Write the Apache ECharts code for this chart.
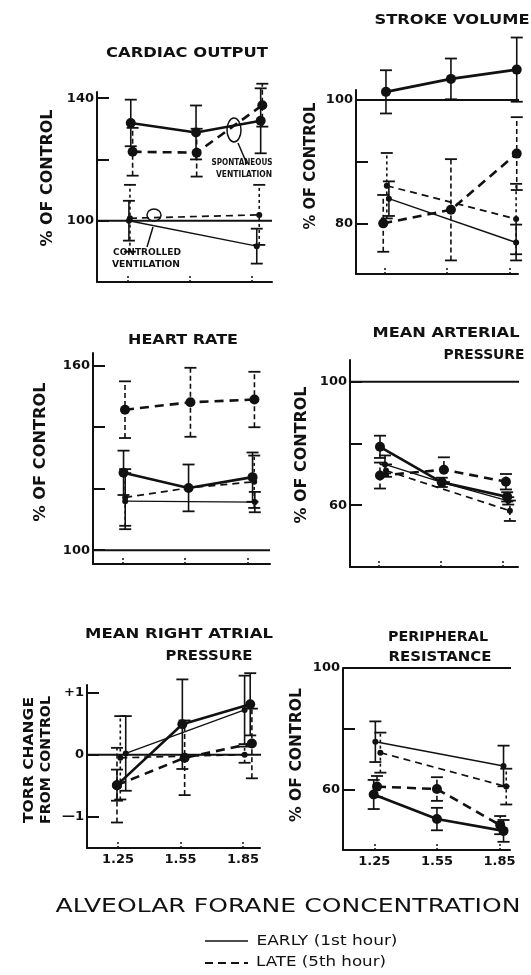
<!DOCTYPE html>
<html>
<head>
<meta charset="utf-8">
<script src="https://cdn.jsdelivr.net/npm/echarts@6/dist/echarts.min.js"></script>
<style>
  html, body { margin: 0; padding: 0; background: #fff; }
  #chart { width: 531px; height: 975px; }
</style>
</head>
<body>
<div id="chart"></div>
<script>
// concentrations on the x axis
const concTicks = [1.25, 1.55, 1.85]
const concLabels = ['1.25', '1.55', '1.85']

// cardiac output (% of control)
const coSpontEarlyX = [1.264, 1.581, 1.895]
const coSpontEarly = [131.9, 128.8, 132.6]
const coSpontEarlyErr = [7.6, 8.8, 10.6]
const coSpontLateX = [1.273, 1.584, 1.903]
const coSpontLate = [122.5, 122.2, 137.7]
const coSpontLateErr = [7.8, 7.8, 7.0]
const coCtrlEarlyX = [1.255, 1.876]
const coCtrlEarly = [100.0, 91.7]
const coCtrlEarlyErr = [6.5, 5.7]
const coCtrlLateX = [1.26, 1.888]
const coCtrlLate = [100.8, 101.9]
const coCtrlLateErr = [10.9, 9.8]
const coTicks = [100, 120, 140]
const coTickLabels = ['100', '', '140']

// stroke volume
const svSpontEarlyX = [1.258, 1.568, 1.882]
const svSpontEarly = [101.3, 103.4, 104.9]
const svSpontEarlyErr = [3.5, 3.3, 5.2]
const svSpontLateX = [1.245, 1.568, 1.882]
const svSpontLate = [80.0, 82.2, 91.3]
const svSpontLateErr = [4.6, 8.2, 5.9]
const svCtrlEarlyX = [1.272, 1.879]
const svCtrlEarly = [84.0, 76.9]
const svCtrlEarlyErr = [2.8, 2.9]
const svCtrlLateX = [1.262, 1.879]
const svCtrlLate = [86.1, 80.7]
const svCtrlLateErr = [5.3, 5.7]
const svTicks = [80, 90, 100]
const svTickLabels = ['80', '', '100']

// heart rate
const hrSpontEarlyX = [1.254, 1.567, 1.875]
const hrSpontEarly = [125.1, 120.2, 123.7]
const hrSpontEarlyErr = [7.2, 7.6, 8.0]
const hrSpontLateX = [1.261, 1.576, 1.884]
const hrSpontLate = [145.6, 148.0, 148.9]
const hrSpontLateErr = [9.2, 11.2, 9.0]
const hrCtrlEarlyX = [1.262, 1.886]
const hrCtrlEarly = [115.9, 115.6]
const hrCtrlEarlyErr = [9.1, 3.3]
const hrCtrlLateX = [1.262, 1.567, 1.883]
const hrCtrlLate = [117.1, 120.2, 122.2]
const hrCtrlLateErr = [9.2, 0, 8.5]
const hrTicks = [100, 120, 140, 160]
const hrTickLabels = ['100', '', '', '160']

// mean arterial pressure
const mapSpontEarlyX = [1.258, 1.555, 1.869]
const mapSpontEarly = [78.9, 67.4, 62.7]
const mapSpontEarlyErr = [3.6, 1.5, 1.5]
const mapSpontLateX = [1.258, 1.565, 1.863]
const mapSpontLate = [69.6, 71.5, 67.6]
const mapSpontLateErr = [4.2, 4.0, 2.5]
const mapCtrlEarlyX = [1.282, 1.555, 1.874]
const mapCtrlEarly = [73.2, 67.4, 61.4]
const mapCtrlEarlyErr = [2.9, 0, 1.2]
const mapCtrlLateX = [1.287, 1.882]
const mapCtrlLate = [71.2, 58.2]
const mapCtrlLateErr = [2.0, 3.3]
const mapTicks = [60, 80, 100]
const mapTickLabels = ['60', '', '100']

// mean right atrial pressure (torr change)
const rapSpontEarlyX = [1.245, 1.559, 1.885]
const rapSpontEarly = [-0.49, 0.49, 0.81]
const rapSpontEarlyErr = [0.25, 0.72, 0.5]
const rapSpontLateX = [1.245, 1.570, 1.893]
const rapSpontLate = [-0.49, -0.05, 0.18]
const rapSpontLateErr = [0.6, 0.6, 0.56]
const rapCtrlEarlyX = [1.287, 1.858]
const rapCtrlEarly = [0.02, 0.72]
const rapCtrlEarlyErr = [0.6, 0.55]
const rapCtrlLateX = [1.261, 1.858]
const rapCtrlLate = [-0.05, 0.0]
const rapCtrlLateErr = [0.67, 0.13]
const rapTicks = [-1, 0, 1]
const rapTickLabels = ['—1', '0', '+1']

// peripheral resistance
const prSpontEarlyX = [1.247, 1.550, 1.869]
const prSpontEarly = [58.3, 50.2, 46.3]
const prSpontEarlyErr = [4.8, 3.7, 3.6]
const prSpontLateX = [1.263, 1.550, 1.853]
const prSpontLate = [60.9, 60.1, 48.2]
const prSpontLateErr = [3.5, 3.9, 3.0]
const prCtrlEarlyX = [1.255, 1.869]
const prCtrlEarly = [75.7, 67.7]
const prCtrlEarlyErr = [6.7, 6.7]
const prCtrlLateX = [1.279, 1.882]
const prCtrlLate = [72.1, 60.9]
const prCtrlLateErr = [6.6, 5.9]
const prTicks = [60, 80, 100]
const prTickLabels = ['60', '', '100']

const INK = '#111'
const FONT = '"DejaVu Sans", sans-serif'

// grids are laid out to the pixel to sit where the original panels sit
const panels = [
  { left: 97, top: 92, width: 175, height: 190, x: [1.1, 1.95], y: [80, 142], ticks: coTicks, labels: coTickLabels, ref: 100, refEnd: 1.95, xLabels: false,
    series: [['ctrlEarly', coCtrlEarlyX, coCtrlEarly, coCtrlEarlyErr], ['ctrlLate', coCtrlLateX, coCtrlLate, coCtrlLateErr],
      ['spontEarly', coSpontEarlyX, coSpontEarly, coSpontEarlyErr], ['spontLate', coSpontLateX, coSpontLate, coSpontLateErr]] },
  { left: 356, top: 90, width: 162, height: 184, x: [1.115, 1.888], y: [71.8, 101.6], ticks: svTicks, labels: svTickLabels, ref: 100, refEnd: 1.95, xLabels: false,
    series: [['ctrlEarly', svCtrlEarlyX, svCtrlEarly, svCtrlEarlyErr], ['ctrlLate', svCtrlLateX, svCtrlLate, svCtrlLateErr],
      ['spontEarly', svSpontEarlyX, svSpontEarly, svSpontEarlyErr], ['spontLate', svSpontLateX, svSpontLate, svSpontLateErr]] },
  { left: 93, top: 353, width: 177, height: 211, x: [1.107, 1.959], y: [95.5, 164], ticks: hrTicks, labels: hrTickLabels, ref: 100, refEnd: 1.959, xLabels: false,
    series: [['ctrlEarly', hrCtrlEarlyX, hrCtrlEarly, hrCtrlEarlyErr], ['ctrlLate', hrCtrlLateX, hrCtrlLate, hrCtrlLateErr],
      ['spontEarly', hrSpontEarlyX, hrSpontEarly, hrSpontEarlyErr], ['spontLate', hrSpontLateX, hrSpontLate, hrSpontLateErr]] },
  { left: 350, top: 360, width: 168, height: 207, x: [1.114, 1.921], y: [40, 107], ticks: mapTicks, labels: mapTickLabels, ref: 100, refEnd: 1.983, xLabels: false,
    series: [['ctrlEarly', mapCtrlEarlyX, mapCtrlEarly, mapCtrlEarlyErr], ['ctrlLate', mapCtrlLateX, mapCtrlLate, mapCtrlLateErr],
      ['spontEarly', mapSpontEarlyX, mapSpontEarly, mapSpontEarlyErr], ['spontLate', mapSpontLateX, mapSpontLate, mapSpontLateErr]] },
  { left: 87, top: 685, width: 173, height: 163, x: [1.101, 1.932], y: [-1.5, 1.12], ticks: rapTicks, labels: rapTickLabels, ref: 0, refEnd: 1.955, xLabels: true,
    series: [['ctrlEarly', rapCtrlEarlyX, rapCtrlEarly, rapCtrlEarlyErr], ['ctrlLate', rapCtrlLateX, rapCtrlLate, rapCtrlLateErr],
      ['spontEarly', rapSpontEarlyX, rapSpontEarly, rapSpontEarlyErr], ['spontLate', rapSpontLateX, rapSpontLate, rapSpontLateErr]] },
  { left: 343, top: 668, width: 167, height: 182, x: [1.10, 1.90], y: [40, 100], ticks: prTicks, labels: prTickLabels, ref: 100, refEnd: 1.933, xLabels: true,
    series: [['ctrlEarly', prCtrlEarlyX, prCtrlEarly, prCtrlEarlyErr], ['ctrlLate', prCtrlLateX, prCtrlLate, prCtrlLateErr],
      ['spontEarly', prSpontEarlyX, prSpontEarly, prSpontEarlyErr], ['spontLate', prSpontLateX, prSpontLate, prSpontLateErr]] }
]

const STYLE = {
  spontEarly: { width: 2.6, type: 'solid', size: 10, barDash: null },
  spontLate: { width: 2.6, type: [9, 6], size: 10, barDash: [5, 3] },
  ctrlEarly: { width: 1.4, type: 'solid', size: 6, barDash: null },
  ctrlLate: { width: 1.7, type: [7, 5], size: 6, barDash: [3, 3] }
}

function lineSeries (g, kind, xs, ys) {
  const s = STYLE[kind]
  return {
    type: 'line', xAxisIndex: g, yAxisIndex: g, clip: false, silent: true, z: 5,
    data: xs.map((x, i) => [x, ys[i]]),
    symbol: 'circle', symbolSize: s.size, showSymbol: true,
    itemStyle: { color: INK },
    lineStyle: { color: INK, width: s.width, type: s.type }
  }
}

function errorSeries (g, kind, xs, ys, errs) {
  const s = STYLE[kind]
  const rows = []
  xs.forEach((x, i) => { if (errs[i] > 0) rows.push([x, ys[i] - errs[i], ys[i] + errs[i]]) })
  return {
    type: 'custom', xAxisIndex: g, yAxisIndex: g, clip: false, silent: true, z: 3,
    data: rows,
    renderItem (params, api) {
      const lo = api.coord([api.value(0), api.value(1)])
      const hi = api.coord([api.value(0), api.value(2)])
      const capStyle = { stroke: INK, lineWidth: 1.8 }
      return {
        type: 'group',
        children: [
          { type: 'line', shape: { x1: lo[0], y1: lo[1], x2: hi[0], y2: hi[1] }, style: { stroke: INK, lineWidth: 1.6, lineDash: s.barDash } },
          { type: 'line', shape: { x1: hi[0] - 6, y1: hi[1], x2: hi[0] + 6, y2: hi[1] }, style: capStyle },
          { type: 'line', shape: { x1: lo[0] - 6, y1: lo[1], x2: lo[0] + 6, y2: lo[1] }, style: capStyle }
        ]
      }
    }
  }
}

const grids = []
const xAxes = []
const yAxes = []
const series = []

panels.forEach((p, g) => {
  grids.push({ left: p.left, top: p.top, width: p.width, height: p.height })
  xAxes.push({
    type: 'value', gridIndex: g, min: p.x[0], max: p.x[1],
    axisLine: { onZero: false, lineStyle: { color: INK, width: 2 } },
    axisTick: { inside: true, length: 7, customValues: concTicks, lineStyle: { color: INK, width: 1.5, type: [2, 2] } },
    axisLabel: {
      show: p.xLabels, customValues: concTicks, margin: 5,
      formatter: v => concLabels[concTicks.indexOf(v)] || '',
      color: INK, fontFamily: FONT, fontWeight: 'bold', fontSize: 13
    },
    splitLine: { show: false }
  })
  yAxes.push({
    type: 'value', gridIndex: g, min: p.y[0], max: p.y[1],
    axisLine: { onZero: false, lineStyle: { color: INK, width: 2 } },
    axisTick: { inside: true, length: 12, customValues: p.ticks, lineStyle: { color: INK, width: 2 } },
    axisLabel: {
      customValues: p.ticks.filter((t, i) => p.labels[i] !== ''), margin: 3,
      formatter: v => p.labels[p.ticks.indexOf(v)] || '',
      color: INK, fontFamily: FONT, fontWeight: 'bold', fontSize: 13
    },
    splitLine: { show: false }
  })
  // reference line at 100 % (or no change)
  series.push({
    type: 'line', xAxisIndex: g, yAxisIndex: g, clip: false, silent: true, z: 2,
    data: [[p.x[0], p.ref], [p.refEnd, p.ref]], symbol: 'none',
    lineStyle: { color: INK, width: 2 }
  })
  p.series.forEach(([kind, xs, ys, errs]) => {
    series.push(errorSeries(g, kind, xs, ys, errs))
    series.push(lineSeries(g, kind, xs, ys))
  })
})

// text helpers: stretch horizontally to match the letter-spaced lettering of the original
const measure = document.createElement('canvas').getContext('2d')
function text (str, cx, cy, width, size, weight, rotate) {
  const font = weight + ' ' + size + 'px ' + FONT
  measure.font = font
  return {
    type: 'text', x: cx, y: cy, rotation: rotate ? Math.PI / 2 : 0,
    scaleX: width / measure.measureText(str).width, silent: true,
    style: { text: str, font: font, fill: INK, align: 'center', verticalAlign: 'middle', textAlign: 'center', textVerticalAlign: 'middle' }
  }
}

const graphics = [
  text('CARDIAC OUTPUT', 187, 53, 162, 14, 'bold'),
  text('STROKE VOLUME', 452, 20, 155, 14, 'bold'),
  text('HEART RATE', 183, 340, 110, 14, 'bold'),
  text('MEAN ARTERIAL', 446, 333, 147, 14, 'bold'),
  text('PRESSURE', 484, 355, 81, 14, 'bold'),
  text('MEAN RIGHT ATRIAL', 179, 634, 188, 14, 'bold'),
  text('PRESSURE', 209, 656, 87, 14, 'bold'),
  text('PERIPHERAL', 438, 637, 100, 14, 'bold'),
  text('RESISTANCE', 440, 657, 103, 14, 'bold'),

  text('% OF CONTROL', 48, 178, 137, 15, 'bold', true),
  text('% OF CONTROL', 311, 166, 127, 15, 'bold', true),
  text('% OF CONTROL', 41, 452, 139, 15, 'bold', true),
  text('% OF CONTROL', 302, 455, 137, 15, 'bold', true),
  text('TORR CHANGE', 29, 760, 126, 14, 'bold', true),
  text('FROM CONTROL', 46, 760, 128, 14, 'bold', true),
  text('% OF CONTROL', 297, 755, 134, 15, 'bold', true),

  text('SPONTANEOUS', 242, 163, 61, 8, 'bold'),
  text('VENTILATION', 244, 175, 56, 8, 'bold'),
  text('CONTROLLED', 147, 253, 68, 8, 'bold'),
  text('VENTILATION', 146, 265, 68, 8, 'bold'),
  { type: 'ellipse', silent: true, shape: { cx: 234, cy: 130, rx: 7, ry: 12 }, style: { fill: 'none', stroke: INK, lineWidth: 1.5 } },
  { type: 'line', silent: true, shape: { x1: 238, y1: 143, x2: 247, y2: 164 }, style: { stroke: INK, lineWidth: 1.5 } },
  { type: 'ellipse', silent: true, shape: { cx: 154, cy: 215, rx: 7, ry: 6 }, style: { fill: 'none', stroke: INK, lineWidth: 1.5 } },
  { type: 'line', silent: true, shape: { x1: 153, y1: 227, x2: 147, y2: 247 }, style: { stroke: INK, lineWidth: 1.5 } },

  text('ALVEOLAR FORANE CONCENTRATION', 288, 907, 465, 19, 'normal'),
  { type: 'line', silent: true, shape: { x1: 205, y1: 941, x2: 248, y2: 941 }, style: { stroke: INK, lineWidth: 1.5 } },
  { type: 'line', silent: true, shape: { x1: 205, y1: 963, x2: 248, y2: 963 }, style: { stroke: INK, lineWidth: 2, lineDash: [8, 5] } },
  text('EARLY (1st hour)', 327, 941, 141, 14, 'normal'),
  text('LATE (5th hour)', 321, 962, 130, 14, 'normal')
]

const chart = echarts.init(document.getElementById('chart'))
chart.setOption({
  backgroundColor: '#fff',
  animation: false,
  grid: grids,
  xAxis: xAxes,
  yAxis: yAxes,
  series: series,
  graphic: graphics
})
</script>
</body>
</html>
